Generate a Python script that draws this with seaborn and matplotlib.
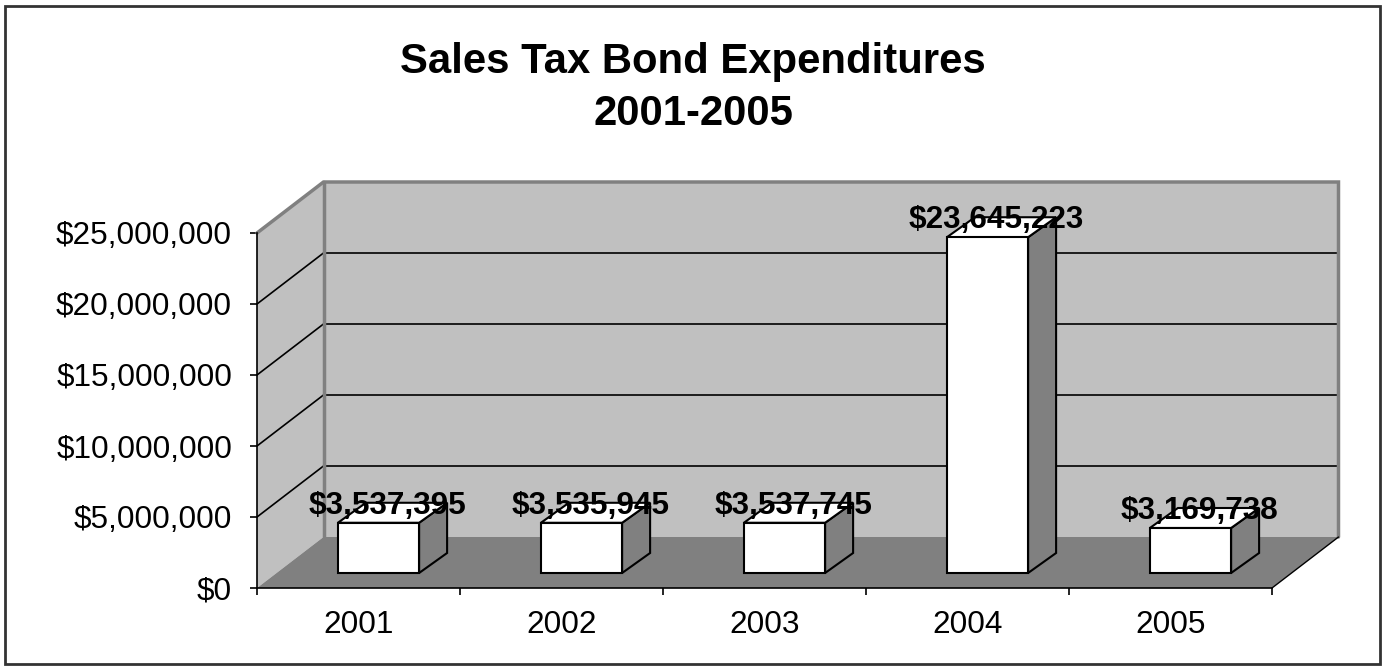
import numpy as np
import pandas as pd
import matplotlib
matplotlib.use("Agg")
import matplotlib.pyplot as plt
import matplotlib.transforms as mtrans
import seaborn as sns
from matplotlib.patches import Polygon, Rectangle
from matplotlib.lines import Line2D
from matplotlib.ticker import FuncFormatter

# ---- data ----
years = ["2001", "2002", "2003", "2004", "2005"]
values = [3537395, 3535945, 3537745, 23645223, 3169738]
y_ticks = [0, 5000000, 10000000, 15000000, 20000000, 25000000]
title_lines = ["Sales Tax Bond Expenditures", "2001-2005"]

sns.set_theme(style="white")
plt.rcParams['font.family'] = ['Liberation Sans', 'DejaVu Sans']

W, H = 1386, 669
fig = plt.figure(figsize=(W / 100, H / 100), dpi=100)
ax = fig.add_axes([257 / W, (H - 588) / H, 1015 / W, 355 / H])
ax.set_facecolor('none')

df = pd.DataFrame({"year": years, "value": values})
sns.barplot(data=df, x="year", y="value", color="white", saturation=1,
            width=0.4, edgecolor="black", linewidth=1.5, ax=ax, zorder=6)
ax.set_xlim(-0.5, len(years) - 0.5)
ax.set_ylim(y_ticks[0], y_ticks[-1])

T = ax.transData
ident = mtrans.IdentityTransform()
FL = (66.5, 51.0)   # floor / wall depth in pixels
BF = (20.0, 15.0)   # bar front plane offset
BB = (48.0, 35.0)   # bar back plane offset


def px(x, y, off=(0, 0)):
    X, Y = T.transform((x, y))
    return (X + off[0], Y + off[1])


x0, x1 = ax.get_xlim()
ymin, ymax = ax.get_ylim()
gray_l = "#c0c0c0"
gray_d = "#808080"

# back wall
ax.add_patch(Polygon([px(x0, ymin, FL), px(x1, ymin, FL), px(x1, ymax, FL), px(x0, ymax, FL)],
                     closed=True, transform=ident, fc=gray_l, ec='none', zorder=0.5, clip_on=False))
# left wall
ax.add_patch(Polygon([px(x0, ymin), px(x0, ymax), px(x0, ymax, FL), px(x0, ymin, FL)],
                     closed=True, transform=ident, fc=gray_l, ec='none', zorder=0.5, clip_on=False))
# gridlines
for v in y_ticks[1:-1]:
    pts = [px(x0, v), px(x0, v, FL), px(x1, v, FL)]
    ax.add_line(Line2D([p[0] for p in pts], [p[1] for p in pts], transform=ident,
                       color='black', lw=1.2, zorder=0.8, clip_on=False))
# wall edges
for pts in ([px(x0, ymin, FL), px(x0, ymax, FL)],
            [px(x0, ymax), px(x0, ymax, FL), px(x1, ymax, FL), px(x1, ymin, FL)]):
    ax.add_line(Line2D([p[0] for p in pts], [p[1] for p in pts], transform=ident,
                       color=gray_d, lw=2.5, zorder=0.9, clip_on=False, solid_joinstyle='miter'))
# floor
ax.add_patch(Polygon([px(x0, ymin), px(x1, ymin), px(x1, ymin, FL), px(x0, ymin, FL)],
                     closed=True, transform=ident, fc=gray_d, ec='none', zorder=1, clip_on=False))
pts = [px(x1, ymin), px(x1, ymin, FL)]
ax.add_line(Line2D([p[0] for p in pts], [p[1] for p in pts], transform=ident,
                   color='black', lw=1, zorder=1.1, clip_on=False))

# bars: shift front faces, add side and top faces
front_tr = mtrans.offset_copy(T, fig=fig, x=BF[0], y=BF[1], units='dots')
for p in list(ax.patches):
    if not isinstance(p, Rectangle) or p.get_width() > 1:
        continue
    xl = p.get_x()
    xr = xl + p.get_width()
    v = p.get_height()
    p.set_transform(front_tr)
    p.set_clip_on(False)
    side = Polygon([px(xr, 0, BF), px(xr, v, BF), px(xr, v, BB), px(xr, 0, BB)], closed=True,
                   transform=ident, fc=gray_d, ec='black', lw=1.5, zorder=5, clip_on=False)
    top = Polygon([px(xl, v, BF), px(xr, v, BF), px(xr, v, BB), px(xl, v, BB)], closed=True,
                  transform=ident, fc='white', ec='black', lw=1.5, zorder=5, clip_on=False)
    ax.add_patch(side)
    ax.add_patch(top)

# data labels
lab_tr = mtrans.offset_copy(T, fig=fig, x=29, y=24, units='dots')
for i, v in enumerate(values):
    ax.text(i, v, f"${v:,.0f}", transform=lab_tr, ha='center', va='baseline',
            fontsize=22.7, fontweight='bold', color='black', zorder=10, clip_on=False)

# axes styling
ax.set_xlabel("")
ax.set_ylabel("")
for s in ("top", "right"):
    ax.spines[s].set_visible(False)
for s in ("left", "bottom"):
    ax.spines[s].set_color("black")
    ax.spines[s].set_linewidth(1.2)
    ax.spines[s].set_zorder(2)

ax.set_yticks(y_ticks)
ax.yaxis.set_major_formatter(FuncFormatter(lambda v, p: f"${v:,.0f}"))
ax.tick_params(axis='y', left=True, length=5, width=1.2, color='black', direction='out',
               pad=13, labelsize=22.7, labelcolor='black')

ax.set_xticks(np.arange(x0, x1 + 0.01, 1.0))
ax.set_xticklabels([])
ax.set_xticks(range(len(years)), minor=True)
ax.set_xticklabels(years, minor=True)
ax.tick_params(axis='x', which='major', bottom=True, length=5, width=1.2, color='black', direction='out')
ax.tick_params(axis='x', which='minor', bottom=True, length=0, pad=15.5, labelsize=22.7, labelcolor='black')

# title
fig.text(693 / W, 1 - 73 / H, title_lines[0], ha='center', va='baseline',
         fontsize=30.2, fontweight='bold', color='black')
fig.text(693 / W, 1 - 125 / H, title_lines[1], ha='center', va='baseline',
         fontsize=30.2, fontweight='bold', color='black')

# outer border
fig.add_artist(Rectangle((5 / W, 5 / H), 1375 / W, 658.5 / H, transform=fig.transFigure,
                         fill=False, ec='#333333', lw=2))

fig.savefig("out.png", dpi=100)
